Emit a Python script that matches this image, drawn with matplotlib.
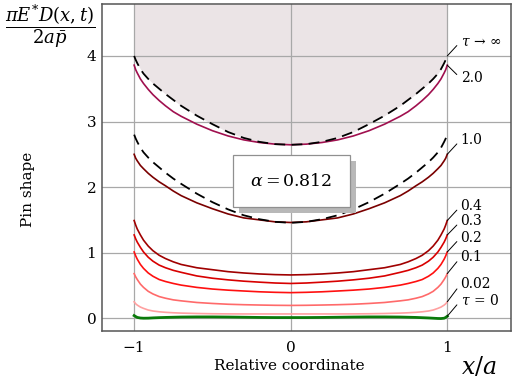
import matplotlib
matplotlib.use("Agg")
import matplotlib.pyplot as plt
import matplotlib.patheffects as pe

plt.rcParams['font.family'] = ['DejaVu Serif']
plt.rcParams['mathtext.fontset'] = 'dejavuserif'

# relative coordinate x/a
x = [-1, -0.99, -0.98, -0.96, -0.94, -0.91, -0.88, -0.84, -0.8, -0.75, -0.7, -0.6, -0.5,
     -0.4, -0.3, -0.2, -0.1, 0, 0.1, 0.2, 0.3, 0.4, 0.5, 0.6, 0.7, 0.75, 0.8, 0.84, 0.88,
     0.91, 0.94, 0.96, 0.98, 0.99, 1]

# pin shape for each tau
y_inf = [4.00, 3.94, 3.89, 3.80, 3.73, 3.65, 3.58, 3.50, 3.42, 3.33, 3.24, 3.09, 2.96,
         2.84, 2.75, 2.69, 2.655, 2.645, 2.655, 2.69, 2.75, 2.84, 2.96, 3.09, 3.24, 3.33,
         3.42, 3.50, 3.58, 3.65, 3.73, 3.80, 3.89, 3.94, 4.00]
y_20 = [3.86, 3.79, 3.74, 3.65, 3.58, 3.49, 3.41, 3.32, 3.24, 3.15, 3.08, 2.96, 2.86,
        2.78, 2.72, 2.68, 2.655, 2.645, 2.655, 2.68, 2.72, 2.78, 2.86, 2.96, 3.08, 3.15,
        3.24, 3.32, 3.41, 3.49, 3.58, 3.65, 3.74, 3.79, 3.86]
y_10_lim = [2.80, 2.74, 2.69, 2.60, 2.53, 2.45, 2.38, 2.30, 2.22, 2.13, 2.05, 1.90, 1.77,
            1.66, 1.57, 1.51, 1.47, 1.455, 1.47, 1.51, 1.57, 1.66, 1.77, 1.90, 2.05, 2.13,
            2.22, 2.30, 2.38, 2.45, 2.53, 2.60, 2.69, 2.74, 2.80]
y_10 = [2.50, 2.44, 2.40, 2.33, 2.28, 2.21, 2.15, 2.08, 2.02, 1.94, 1.87, 1.76, 1.67,
        1.59, 1.53, 1.50, 1.47, 1.46, 1.47, 1.50, 1.53, 1.59, 1.67, 1.76, 1.87, 1.94,
        2.02, 2.08, 2.15, 2.21, 2.28, 2.33, 2.40, 2.44, 2.50]
y_04 = [1.49, 1.42, 1.36, 1.27, 1.19, 1.10, 1.03, 0.96, 0.91, 0.86, 0.82, 0.77, 0.74,
        0.71, 0.69, 0.675, 0.665, 0.66, 0.665, 0.675, 0.69, 0.71, 0.74, 0.77, 0.82, 0.86,
        0.91, 0.96, 1.03, 1.10, 1.19, 1.27, 1.36, 1.42, 1.49]
y_03 = [1.27, 1.21, 1.16, 1.08, 1.01, 0.93, 0.87, 0.81, 0.77, 0.73, 0.70, 0.645, 0.61,
        0.585, 0.565, 0.55, 0.537, 0.53, 0.537, 0.55, 0.565, 0.585, 0.61, 0.645, 0.70, 0.73,
        0.77, 0.81, 0.87, 0.93, 1.01, 1.08, 1.16, 1.21, 1.27]
y_02 = [1.01, 0.95, 0.90, 0.82, 0.76, 0.69, 0.64, 0.59, 0.56, 0.53, 0.505, 0.47, 0.445,
        0.428, 0.415, 0.403, 0.395, 0.39, 0.395, 0.403, 0.415, 0.428, 0.445, 0.47, 0.505, 0.53,
        0.56, 0.59, 0.64, 0.69, 0.76, 0.82, 0.90, 0.95, 1.01]
y_01 = [0.68, 0.63, 0.59, 0.52, 0.47, 0.41, 0.37, 0.33, 0.305, 0.28, 0.265, 0.24, 0.225,
        0.213, 0.206, 0.201, 0.197, 0.195, 0.197, 0.201, 0.206, 0.213, 0.225, 0.24, 0.265, 0.28,
        0.305, 0.33, 0.37, 0.41, 0.47, 0.52, 0.59, 0.63, 0.68]
y_002 = [0.25, 0.22, 0.20, 0.17, 0.15, 0.125, 0.11, 0.098, 0.09, 0.083, 0.078, 0.072, 0.068,
         0.066, 0.065, 0.065, 0.065, 0.065, 0.065, 0.065, 0.065, 0.066, 0.068, 0.072, 0.078, 0.083,
         0.09, 0.098, 0.11, 0.125, 0.15, 0.17, 0.20, 0.22, 0.25]
y_0 = [0.04, 0.025, 0.012, 0.003, 0.0, 0.001, 0.005, 0.009, 0.012, 0.015, 0.018, 0.02, 0.02,
       0.018, 0.015, 0.012, 0.01, 0.01, 0.01, 0.012, 0.015, 0.018, 0.02, 0.02, 0.018, 0.015,
       0.012, 0.008, 0.004, 0.0, -0.004, -0.005, 0.0, 0.012, 0.03]

curves = [y_20, y_10, y_04, y_03, y_02, y_01, y_002]
colors = ['#A0104F', '#7A0000', '#A00000', '#D80000', '#FF1010', '#FF6A6A', '#FFA0A0']

labels = [r'$\tau\,\rightarrow\,\infty$', '2.0', '1.0', '0.4', '0.3', '0.2', '0.1', '0.02', r'$\tau\,=\,0$']
label_from = [4.00, 3.86, 2.50, 1.49, 1.27, 1.01, 0.68, 0.25, 0.03]
label_to = [4.22, 3.66, 2.72, 1.71, 1.48, 1.23, 0.93, 0.52, 0.27]

fig = plt.figure(figsize=(5.12, 3.79), dpi=100)
ax = fig.add_axes([0.199, 0.127, 0.799, 0.862])
xmin, xmax, ymin, ymax = -1.206, 1.407, -0.193, 4.79

ax.fill_between(x, y_inf, ymax, color='#EBE4E6', lw=0, zorder=0.2)
ax.plot(x, y_inf, color='black', lw=1.3, dashes=(6, 3.5), zorder=3)
ax.plot(x, y_10_lim, color='black', lw=1.3, dashes=(6, 3.5), zorder=3)
for yy, c in zip(curves, colors):
    ax.plot(x, yy, color=c, lw=1.2, zorder=2)
ax.plot(x, y_0, color='#0A7A0A', lw=2.0, zorder=2)

for lab, y0, y1 in zip(labels, label_from, label_to):
    ax.annotate(lab, xy=(1, y0), xytext=(1.085, y1), ha='left', va='center', fontsize=10,
                arrowprops=dict(arrowstyle='-', lw=0.7, color='black', shrinkA=1, shrinkB=0,
                                relpos=(0, 0.5)), zorder=4)

# alpha box, shadow drawn as a path effect on the box
t = ax.text(0.005, 2.09, r'$\alpha = 0.812$', fontsize=12.5, ha='center', va='center', zorder=6,
            bbox=dict(boxstyle='square,pad=1.0', fc='white', ec='#909090', lw=0.9))
t.get_bbox_patch().set_path_effects([
    pe.SimplePatchShadow(offset=(4, -4), shadow_rgbFace='#B8B8B8', alpha=1.0),
    pe.Normal()])

ax.set_xlim(xmin, xmax)
ax.set_ylim(ymin, ymax)
ax.set_xticks([-1, 0, 1])
ax.set_xticklabels(['\u22121', '0', '1'])
ax.set_yticks([0, 1, 2, 3, 4])
ax.tick_params(length=0, labelsize=11, pad=7)
ax.tick_params(axis='y', pad=4)
ax.set_axisbelow(True)
ax.grid(color='#A8A8A8', lw=0.9)
for s in ax.spines.values():
    s.set_color('#555555')
    s.set_linewidth(1.1)

fig.text(0.565, 0.035, 'Relative coordinate', ha='center', va='center', fontsize=11)
fig.text(0.935, 0.032, r'$x/a$', ha='center', va='center', fontsize=17)
fig.text(0.055, 0.50, 'Pin shape', rotation=90, ha='center', va='center', fontsize=11)
fig.text(0.098, 0.932, r'$\dfrac{\pi E^{*} D(x,t)}{2a\bar{p}}$', ha='center', va='center', fontsize=13)

fig.savefig('out.png', dpi=100)
